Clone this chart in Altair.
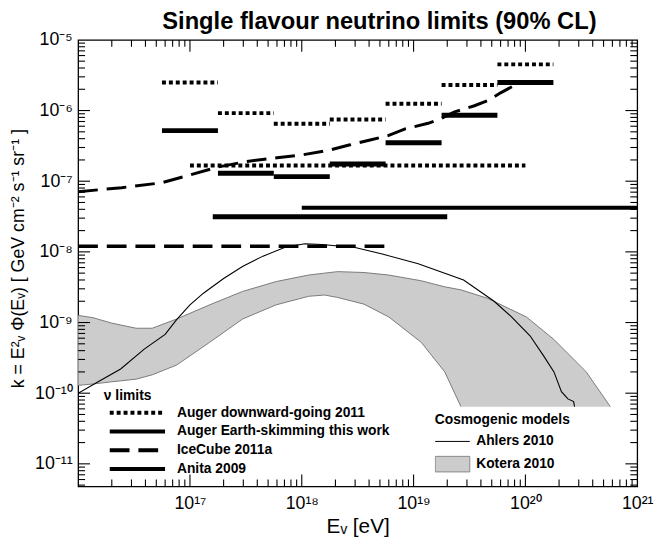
import altair as alt
import pandas as pd

# ---------------- data ----------------
TITLE = "Single flavour neutrino limits (90% CL)"
LIMIT_NAMES = ["Auger downward-going 2011", "Auger Earth-skimming this work",
               "IceCube 2011a", "Anita 2009"]

# half-decade energy bins (eV) of the differential limits
bin_edges = [5.62e16, 1.78e17, 5.62e17, 1.78e18, 5.62e18, 1.78e19, 5.62e19, 1.78e20]
auger_dg_k = [2.5e-6, 9.2e-7, 6.5e-7, 7.45e-7, 1.25e-6, 2.3e-6, 4.5e-6]
auger_es_k = [5.2e-7, 1.3e-7, 1.16e-7, 1.75e-7, 3.5e-7, 8.6e-7, 2.5e-6]

# integrated limits: [E_min, E_max, k]
auger_dg_int = [1.0e17, 1.0e20, 1.67e-7]
auger_es_int = [1.6e17, 2.0e19, 3.15e-8]
anita_int = [1.0e18, 1.0e21, 4.2e-8]
icecube_int = [1.0e16, 6.3e18, 1.2e-8]

icecube_E = [1.0e16, 2.45e16, 5.6e16, 9.5e16, 1.76e17, 3.2e17, 6.0e17, 1.0e18,
             1.77e18, 2.65e18, 4.0e18, 6.0e18, 8.4e18, 1.35e19, 1.77e19, 2.3e19,
             3.5e19, 4.6e19, 6.0e19, 7.9e19, 9.6e19]
icecube_k = [7.1e-8, 8.1e-8, 9.5e-8, 1.2e-7, 1.58e-7, 1.9e-7, 2.15e-7, 2.35e-7,
             2.75e-7, 3.25e-7, 3.8e-7, 4.45e-7, 5.5e-7, 6.6e-7, 7.75e-7, 9.5e-7,
             1.17e-6, 1.38e-6, 1.78e-6, 2.25e-6, 2.55e-6]

ahlers_E = [1.0e16, 1.51e16, 2.4e16, 3.9e16, 6.0e16, 7.6e16, 1.0e17, 1.32e17, 2.0e17,
            2.95e17, 4.5e17, 7.2e17, 1.07e18, 1.51e18, 3.0e18, 5.25e18, 1.1e19,
            2.8e19, 5.25e19, 7.4e19, 1.1e20, 1.45e20, 1.8e20, 2.1e20, 2.4e20,
            2.7e20, 2.75e20]
ahlers_k = [1.0e-10, 1.45e-10, 2.2e-10, 4.2e-10, 6.8e-10, 1.1e-9, 1.78e-9, 2.6e-9,
            4.2e-9, 6.2e-9, 8.7e-9, 1.17e-8, 1.3e-8, 1.27e-8, 1.15e-8, 9.3e-9,
            6.8e-9, 4.0e-9, 2.0e-9, 1.23e-9, 6.5e-10, 3.4e-10, 2.0e-10, 1.05e-10,
            8.3e-11, 7.6e-11, 6.45e-11]

kotera_E = [1.0e16, 1.36e16, 2.0e16, 3.3e16, 4.6e16, 7.6e16, 1.5e17, 2.95e17, 5.9e17,
            1.15e18, 1.6e18, 2.1e18, 3.6e18, 6.0e18, 1.17e19, 1.9e19, 2.65e19,
            4.6e19, 1.02e20, 1.8e20, 3.5e20, 5.75e20]
kotera_hi = [1.26e-9, 1.17e-9, 9.8e-10, 8.3e-10, 8.3e-10, 1.12e-9, 1.78e-9, 2.75e-9,
             3.8e-9, 4.7e-9, 5.0e-9, 5.25e-9, 5.1e-9, 4.7e-9, 3.9e-9, 3.2e-9,
             2.9e-9, 2.2e-9, 1.2e-9, 5.75e-10, 2.0e-10, 6.45e-11]
kotera_lo = [1.29e-10, 1.35e-10, 1.45e-10, 1.58e-10, 1.82e-10, 2.5e-10, 5.25e-10,
             1.12e-9, 1.78e-9, 2.35e-9, 2.45e-9, 2.26e-9, 1.82e-9, 1.2e-9, 5.25e-10,
             2.0e-10, 6.45e-11, 6.45e-11, 6.45e-11, 6.45e-11, 6.45e-11, 6.45e-11]
kotera_lo_edge_end = 2.65e19   # the drawn lower edge stops here (band is cut below)

X_DOMAIN = [1e16, 1e21]
Y_DOMAIN = [4.8e-12, 1e-5]
x_label_exps = [17, 18, 19, 20, 21]
y_label_exps = [-11, -10, -9, -8, -7, -6, -5]

# ---------------- layout / style ----------------
W, H = 566, 452
FONT = "Liberation Sans"
SUP = "⁰¹²³⁴⁵⁶⁷⁸⁹"


def sup(n):
    return "".join("⁻" if c == "-" else SUP[int(c)] for c in str(n))


def label_expr(exps):
    parts = [f"round(log(datum.value)/LN10) == {e} ? '10{sup(e)}'" for e in exps]
    return " : ".join(parts) + " : ''"


xs = alt.Scale(type="log", domain=X_DOMAIN, nice=False)
ys = alt.Scale(type="log", domain=Y_DOMAIN, nice=False)

x_axis = alt.Axis(values=[10.0 ** e for e in x_label_exps], labelExpr=label_expr(x_label_exps),
                  ticks=False, tickSize=0, domain=False, grid=False, labelPadding=8,
                  labelFlush=False, labelOverlap=False, labelFont=FONT, labelFontSize=18,
                  labelColor="black", title="Eᵥ [eV]", titleFont=FONT, titleFontSize=21,
                  titleFontWeight="normal", titleColor="black", titleX=W / 2, titleY=47,
                  titleBaseline="alphabetic", titleAlign="center")
y_axis = alt.Axis(values=[10.0 ** e for e in y_label_exps], labelExpr=label_expr(y_label_exps),
                  ticks=False, tickSize=0, domain=False, grid=False, labelPadding=6,
                  labelFlush=False, labelOverlap=False, labelFont=FONT, labelFontSize=18,
                  labelColor="black",
                  title="k = E²ᵥ Φ(Eᵥ)   [ GeV cm⁻² s⁻¹ sr⁻¹ ]", titleFont=FONT,
                  titleFontSize=18, titleFontWeight="normal", titleColor="black",
                  titleX=-55, titleY=221, titleAngle=270, titleBaseline="alphabetic",
                  titleAlign="center")


def X(field):
    return alt.X(field, scale=xs, axis=x_axis)


def Y(field):
    return alt.Y(field, scale=ys, axis=y_axis)


dash_scale = alt.Scale(domain=LIMIT_NAMES, range=[[4, 3], [1, 0], [20, 9], [1, 0]])
leg_limits = alt.Legend(title="ν limits", orient="none", legendX=26, legendY=354,
                        symbolType="stroke", symbolSize=3136, symbolStrokeWidth=4,
                        symbolStrokeColor="black", clipHeight=19, symbolOffset=4,
                        titlePadding=0, labelOffset=10, rowPadding=0, padding=0,
                        labelLimit=400)
leg_ahlers = alt.Legend(title="Cosmogenic models", orient="none", legendX=361, legendY=378,
                        symbolType="stroke", symbolSize=1225, symbolStrokeWidth=1,
                        clipHeight=23, titlePadding=3, labelOffset=6, rowPadding=0,
                        padding=0, labelLimit=400)
leg_kotera = alt.Legend(title=None, orient="none", legendX=361, legendY=418,
                        symbolType="M-1,-0.45H1V0.45H-1Z", symbolSize=1225,
                        symbolStrokeColor="#888888", symbolStrokeWidth=1,
                        clipHeight=23, labelOffset=6, rowPadding=0, padding=0,
                        labelLimit=400)

# ---------------- data frames ----------------
kdf = pd.DataFrame({"E": kotera_E, "hi": kotera_hi, "lo": kotera_lo, "model_k": "Kotera 2010"})
kdf_lo = kdf[kdf["E"] <= kotera_lo_edge_end]
adf = pd.DataFrame({"E": ahlers_E, "k": ahlers_k, "model_a": "Ahlers 2010"})
icdf = pd.DataFrame({"E": icecube_E, "k": icecube_k, "series": LIMIT_NAMES[2]})


def seg_frame(name, lows, highs, ks):
    return pd.DataFrame({"series": name, "E1": lows, "E2": highs, "k": ks})


dg_df = seg_frame(LIMIT_NAMES[0], bin_edges[:-1] + [auger_dg_int[0]],
                  bin_edges[1:] + [auger_dg_int[1]], auger_dg_k + [auger_dg_int[2]])
es_df = seg_frame(LIMIT_NAMES[1], bin_edges[:-1] + [auger_es_int[0]],
                  bin_edges[1:] + [auger_es_int[1]], auger_es_k + [auger_es_int[2]])
ic_flat_df = seg_frame(LIMIT_NAMES[2], [icecube_int[0]], [icecube_int[1]], [icecube_int[2]])
anita_df = seg_frame(LIMIT_NAMES[3], [anita_int[0]], [anita_int[1]], [anita_int[2]])

# ---------------- layers ----------------
kotera_area = alt.Chart(kdf).mark_area(opacity=1, clip=True).encode(
    x=X("E:Q"), y=Y("hi:Q"), y2="lo:Q",
    fill=alt.Fill("model_k:N", scale=alt.Scale(domain=["Kotera 2010"], range=["#cccccc"]),
                  legend=leg_kotera),
)
kotera_top = alt.Chart(kdf).mark_line(color="#7a7a7a", strokeWidth=1, clip=True).encode(
    x=X("E:Q"), y=Y("hi:Q"))
kotera_bot = alt.Chart(kdf_lo).mark_line(color="#7a7a7a", strokeWidth=1, clip=True).encode(
    x=X("E:Q"), y=Y("lo:Q"))

ahlers = alt.Chart(adf).mark_line(strokeWidth=1.1, clip=True).encode(
    x=X("E:Q"), y=Y("k:Q"),
    stroke=alt.Stroke("model_a:N", scale=alt.Scale(domain=["Ahlers 2010"], range=["black"]),
                      legend=leg_ahlers),
)


def rule_layer(df, width):
    return alt.Chart(df).mark_rule(strokeWidth=width, color="black", strokeCap="butt",
                                   clip=True).encode(
        x=X("E1:Q"), x2="E2:Q", y=Y("k:Q"),
        strokeDash=alt.StrokeDash("series:N", scale=dash_scale, legend=leg_limits))


ic_curve = alt.Chart(icdf).mark_line(strokeWidth=3, color="black", clip=True).encode(
    x=X("E:Q"), y=Y("k:Q"),
    strokeDash=alt.StrokeDash("series:N", scale=dash_scale, legend=leg_limits))

# ---------------- inward axis ticks (values through the scales) ----------------
x_major = [10.0 ** e for e in range(17, 21)]
x_minor = [m * 10.0 ** e for e in range(16, 21) for m in range(2, 10)]
y_major = [10.0 ** e for e in range(-11, -5)]
y_minor = [m * 10.0 ** e for e in range(-12, -5) for m in range(2, 10)
           if Y_DOMAIN[0] <= m * 10.0 ** e <= Y_DOMAIN[1]]


def xtick(vals, length, top):
    enc = dict(y=alt.value(0), y2=alt.value(length)) if top else \
        dict(y=alt.value(H), y2=alt.value(H - length))
    return alt.Chart(pd.DataFrame({"v": vals})).mark_rule(color="black", strokeWidth=1.1).encode(
        x=X("v:Q"), **enc)


def ytick(vals, length, right):
    enc = dict(x=alt.value(W), x2=alt.value(W - length)) if right else \
        dict(x=alt.value(0), x2=alt.value(length))
    return alt.Chart(pd.DataFrame({"v": vals})).mark_rule(color="black", strokeWidth=1.1).encode(
        y=Y("v:Q"), **enc)


ticks = [xtick(x_major, 12, False), xtick(x_minor, 7, False),
         xtick(x_major, 12, True), xtick(x_minor, 7, True),
         ytick(y_major, 12, False), ytick(y_minor, 7, False),
         ytick(y_major, 12, True), ytick(y_minor, 7, True)]

# chart title, placed just above the frame
title_layer = alt.Chart(pd.DataFrame({"t": [TITLE]})).mark_text(
    font=FONT, fontSize=24, fontWeight="bold", color="black", align="center",
    baseline="alphabetic").encode(text="t:N", x=alt.value(W / 2 + 22), y=alt.value(-11))

layers = [kotera_area, kotera_top, kotera_bot, ahlers,
          rule_layer(ic_flat_df, 3.5), ic_curve, rule_layer(anita_df, 4),
          rule_layer(dg_df, 4), rule_layer(es_df, 5)] + ticks + [title_layer]

chart = alt.layer(*layers).properties(
    width=W, height=H,
    padding={"left": 71, "top": 29, "right": 18, "bottom": 50},
    autosize=alt.AutoSizeParams(type="none"),
    background="white",
).configure_view(stroke="black", strokeWidth=1.3).configure_legend(
    titleFont=FONT, labelFont=FONT, titleFontSize=14, labelFontSize=14,
    titleFontWeight="bold", labelFontWeight="bold", titleColor="black", labelColor="black",
)

chart.save("out.html", embed_options={"renderer": "svg", "actions": False})
